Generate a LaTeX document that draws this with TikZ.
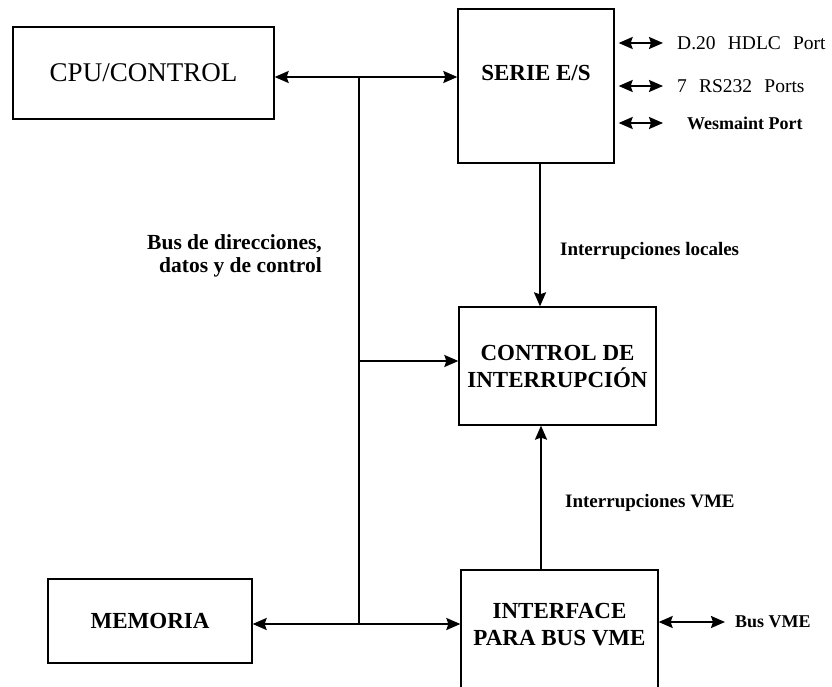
\documentclass[tikz,border=0pt]{standalone}
\usepackage{fontspec}
\setmainfont{Liberation Serif}
\newfontfamily\puertofont[WordSpace=2.5]{Liberation Serif}
\usetikzlibrary{arrows.meta}

\begin{document}
\begin{tikzpicture}[x=1pt, y=-1pt,
  bloque/.style={draw, line width=1.3pt, inner sep=0pt, align=center,
    font=\fontsize{23}{27}\selectfont\bfseries},
  bloquetxt/.style={inner sep=0pt, align=center,
    font=\fontsize{23}{27}\selectfont\bfseries},
  etiqueta/.style={inner sep=0pt, font=\fontsize{19}{23}\selectfont\bfseries},
  puerto/.style={inner sep=0pt, font=\fontsize{19.5}{23}\selectfont\puertofont},
  conexion/.style={line width=1.9pt},
  flecha/.style={conexion, -{Stealth[length=14pt, width=12pt, inset=2pt]}},
  dflecha/.style={conexion,
    {Stealth[length=14pt, width=12pt, inset=2pt]}-{Stealth[length=14pt, width=12pt, inset=2pt]}}]
  \useasboundingbox (0,0) rectangle (832,687);
  % bloques
  \node[bloque, minimum width=261pt, minimum height=92pt,
    font=\fontsize{27}{32}\selectfont] (cpu) at (143.5,73) {CPU/CONTROL};
  \node[bloque, minimum width=156pt, minimum height=154pt] (serie) at (536,86) {};
  \node[bloquetxt] (serietxt) at ([yshift=13pt]serie.center) {SERIE E/S};
  \node[bloque, minimum width=197pt, minimum height=118pt] (intctl) at (557.5,366)
    {CONTROL DE\\INTERRUPCIÓN};
  \node[bloque, minimum width=204pt, minimum height=84pt] (mem) at (150,621) {MEMORIA};
  \node[bloque, minimum width=197pt, minimum height=122pt] (vme) at (559.5,631) {};
  \node[bloquetxt] (vmetxt) at ([yshift=6pt]vme.center) {INTERFACE\\PARA BUS VME};
  % bus
  \coordinate (bussup) at (359,77);
  \coordinate (businf) at (359,624);
  \draw[conexion] (bussup) -- (businf);
  \draw[dflecha] (cpu.east |- bussup) -- (serie.west |- bussup);
  \draw[flecha] ([yshift=5pt]intctl.west -| bussup) -- ([yshift=5pt]intctl.west);
  \draw[dflecha] (mem.east |- businf) -- (vme.west |- businf);
  \node[etiqueta, anchor=east, align=right, font=\fontsize{21.5}{23}\selectfont\bfseries]
    (busdir) at (322,256) {Bus de direcciones,\\datos y de control};
  % interrupciones
  \draw[flecha] ([xshift=4pt]serie.south) -- ([xshift=4pt]serie.south |- intctl.north);
  \draw[flecha] ([xshift=-18.5pt]vme.north) -- ([xshift=-18.5pt]vme.north |- intctl.south);
  \node[etiqueta, anchor=west] (intloc) at (560,251) {Interrupciones locales};
  \node[etiqueta, anchor=west] (intvme) at (565,503) {Interrupciones VME};
  % puertos
  \node[puerto, anchor=west] (p1) at (677,43) {D.20 HDLC Port};
  \node[puerto, anchor=west] (p2) at (677,86) {7 RS232 Ports};
  \node[puerto, anchor=west, font=\fontsize{18}{22}\selectfont\bfseries] (p3) at (687,123)
    {Wesmaint Port};
  \foreach \p/\d in {p1/14, p2/14, p3/24}
    \draw[dflecha] ([xshift=4pt]serie.east |- \p.west) -- ([xshift=-\d pt]\p.west);
  \node[etiqueta, anchor=west, font=\fontsize{18}{22}\selectfont\bfseries] (busvme) at (735,622)
    {Bus VME};
  \draw[dflecha] (vme.east |- busvme.west) -- ([xshift=-10pt]busvme.west);
\end{tikzpicture}
\end{document}
